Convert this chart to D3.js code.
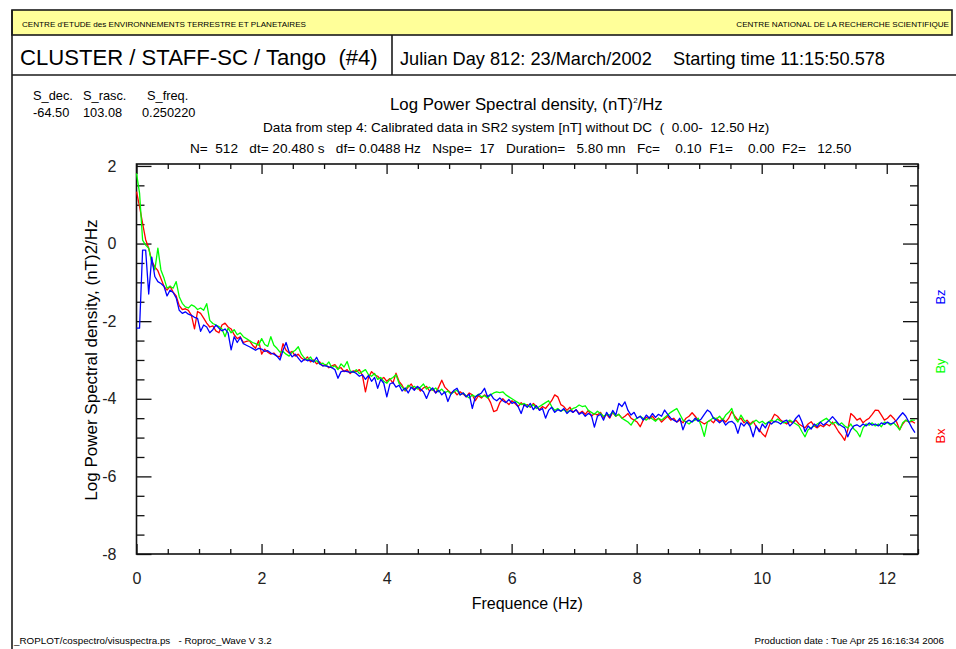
<!DOCTYPE html>
<html>
<head>
<meta charset="utf-8">
<script src="https://cdn.jsdelivr.net/npm/d3@7"></script>
<style>
  html, body { margin: 0; padding: 0; background: #fff; }
  svg { display: block; font-family: "Liberation Sans", Arial, Helvetica, sans-serif; }
  text { white-space: pre; }
</style>
</head>
<body>
<svg id="chart" width="956" height="649"></svg>
<script>
// ---------------- data ----------------
const freqStep = 0.048828; // Hz (df)
const bx = [
 1.34,0.95,0.52,0.1,-0.12,-0.45,-0.6,-0.7,-0.9,-1.1,
 -1.2,-1.1,-1.25,-1.35,-1.6,-1.7,-1.68,-1.72,-1.85,-2.2,
 -1.75,-1.8,-1.92,-2.05,-2.15,-2.12,-2.25,-2.3,-2.1,-2.05,
 -2.15,-2.2,-2.35,-2.45,-2.4,-2.55,-2.52,-2.5,-2.62,-2.7,
 -2.5,-2.85,-2.72,-2.8,-2.85,-2.82,-2.9,-2.92,
 -2.58,-2.75,-2.82,-2.78,-2.9,-2.85,-2.95,-3.0,-2.92,-3.05,
 -3.0,-3.1,-3.05,-3.15,-3.12,-3.2,-3.15,-3.12,-3.22,-3.2,
 -3.3,-3.25,-3.35,-3.28,-3.3,-3.25,-3.4,-3.82,-3.45,-3.3,
 -3.38,-3.42,-3.5,-3.45,-3.55,-3.48,-3.6,-3.34,-3.55,-3.65,
 -3.8,-3.7,-3.62,-3.75,-3.7,-3.8,-3.72,-3.68,-3.8,-3.75,
 -3.85,-3.7,-3.52,-3.7,-3.78,-3.85,-3.8,-3.9,-3.82,-3.88,
 -3.95,-3.85,-3.9,-4.05,-3.92,-3.98,-3.9,-3.95,-4.1,-4.33,
 -4.3,-4.1,-4.0,-4.08,-4.15,-4.05,-4.12,-4.2,-4.1,-4.18,
 -4.15,-4.22,-4.12,-4.2,-4.28,-4.2,-4.25,-4.15,-4.05,-3.9,
 -3.95,-4.15,-4.2,-4.3,-4.22,-4.35,-4.28,-4.38,-4.32,-4.4,
 -4.3,-4.45,-4.38,-4.42,-4.35,-4.48,-4.4,-4.5,-4.35,-4.45,
 -4.4,-4.5,-4.45,-4.38,-4.5,-4.55,-4.6,-4.72,-4.55,-4.48,
 -4.52,-4.45,-4.55,-4.5,-4.6,-4.52,-4.45,-4.55,-4.5,-4.6,
 -4.55,-4.62,-4.5,-4.45,-4.36,-4.45,-4.55,-4.6,-4.65,-4.6,
 -4.55,-4.62,-4.5,-4.58,-4.52,-4.6,-4.5,-4.33,-4.45,-4.55,
 -4.5,-4.62,-4.55,-4.65,-4.58,-4.72,-4.8,-4.9,-4.98,-4.75,
 -4.55,-4.4,-4.45,-4.55,-4.6,-4.65,-4.58,-4.62,-4.55,-4.65,
 -4.7,-4.75,-4.65,-4.59,-4.7,-4.75,-4.68,-4.72,-4.65,-4.7,
 -4.6,-4.72,-4.85,-4.95,-5.07,-4.8,-4.38,-4.45,-4.55,-4.5,
 -4.62,-4.55,-4.5,-4.4,-4.29,-4.3,-4.42,-4.55,-4.5,-4.42,
 -4.5,-4.6,-4.8,-4.65,-4.55,-4.6,-4.58,-4.63
];
const by = [
 1.81,1.3,0.09,-0.04,-0.12,-0.5,-0.68,-0.12,-0.68,-0.89,
 -1.15,-1.1,-1.15,-0.98,-1.37,-1.54,-1.63,-1.66,-1.58,-1.62,
 -1.7,-1.66,-1.72,-1.55,-1.98,-2.06,-2.1,-2.14,-2.2,-2.4,
 -2.18,-2.3,-2.22,-2.35,-2.3,-2.4,-2.45,-2.5,-2.55,-2.58,
 -2.62,-2.45,-2.6,-2.65,-2.4,-2.62,-2.7,-2.8,
 -2.78,-2.85,-2.9,-2.8,-2.75,-2.66,-2.85,-2.95,-3.0,-2.92,
 -3.05,-3.02,-3.1,-3.08,-3.15,-3.05,-3.2,-3.15,-3.25,-3.1,
 -3.18,-3.04,-3.28,-3.32,-3.25,-3.35,-3.3,-3.25,-3.38,-3.42,
 -3.35,-3.5,-3.45,-3.55,-3.6,-3.5,-3.45,-3.38,-3.6,-3.7,
 -3.78,-3.65,-3.72,-3.68,-3.75,-3.7,-3.62,-3.75,-3.7,-3.78,
 -3.72,-3.82,-3.75,-3.85,-3.8,-3.88,-3.82,-3.78,-3.9,-3.85,
 -3.92,-3.98,-3.9,-3.95,-3.88,-3.95,-3.92,-3.98,-3.9,-3.85,
 -3.82,-3.84,-3.82,-3.9,-3.95,-4.0,-4.05,-4.1,-4.15,-4.12,
 -4.18,-4.2,-4.15,-4.25,-4.2,-4.15,-4.1,-4.05,-4.2,-4.3,
 -4.25,-4.32,-4.28,-4.35,-4.3,-4.25,-4.22,-4.16,-4.2,-4.18,
 -4.3,-4.35,-4.4,-4.32,-4.38,-4.45,-4.4,-4.42,-4.35,-4.45,
 -4.4,-4.5,-4.55,-4.6,-4.68,-4.55,-4.5,-4.45,-4.5,-4.55,
 -4.48,-4.52,-4.58,-4.5,-4.55,-4.48,-4.42,-4.35,-4.3,-4.25,
 -4.4,-4.55,-4.6,-4.65,-4.58,-4.55,-4.5,-4.7,-4.97,-4.6,
 -4.55,-4.48,-4.52,-4.45,-4.55,-4.42,-4.35,-4.25,-4.5,-4.6,
 -4.42,-4.55,-4.62,-4.68,-4.6,-4.55,-4.62,-4.58,-4.65,-4.6,
 -4.55,-4.6,-4.52,-4.58,-4.62,-4.6,-4.55,-4.6,-4.65,-4.7,
 -4.85,-4.98,-4.8,-4.75,-4.7,-4.65,-4.6,-4.55,-4.5,-4.58,
 -4.65,-4.6,-4.68,-4.62,-4.7,-4.75,-4.65,-4.78,-4.85,-4.98,
 -4.75,-4.65,-4.68,-4.62,-4.7,-4.65,-4.72,-4.6,-4.62,-4.68,
 -4.62,-4.7,-4.8,-4.62,-4.55,-4.6,-4.55,-4.55
];
const bz = [
 -2.18,-2.18,-0.17,-0.17,-1.3,-0.35,-0.85,-0.98,-1.03,-1.1,
 -1.35,-1.2,-1.26,-1.4,-1.72,-1.8,-1.76,-1.82,-1.85,-1.9,
 -1.93,-2.26,-2.1,-2.15,-2.3,-2.22,-2.1,-2.18,-2.25,-2.2,
 -2.3,-2.74,-2.4,-2.55,-2.42,-2.58,-2.62,-2.66,-2.7,-2.75,
 -2.7,-2.72,-2.78,-2.76,-2.82,-2.85,-2.9,-3.0,
 -2.75,-2.55,-2.8,-2.92,-2.85,-2.95,-3.05,-2.98,-3.02,-3.0,
 -3.05,-2.93,-3.1,-3.15,-3.15,-3.18,-3.2,-3.25,-3.47,-3.3,
 -3.28,-3.3,-3.32,-3.3,-3.35,-3.42,-3.38,-3.5,-3.4,-3.55,
 -3.45,-3.73,-3.5,-3.6,-3.95,-3.62,-3.58,-3.7,-3.65,-3.8,
 -3.72,-3.85,-3.7,-3.78,-3.68,-3.75,-3.82,-3.99,-3.8,-3.72,
 -3.85,-3.78,-3.9,-3.82,-4.07,-3.88,-3.78,-3.73,-3.9,-3.85,
 -3.95,-3.88,-4.25,-3.95,-3.9,-3.85,-3.73,-3.95,-3.88,-4.0,
 -4.05,-3.98,-4.05,-4.1,-4.02,-4.12,-4.08,-4.2,-4.38,-4.15,
 -4.22,-4.12,-4.28,-4.18,-4.3,-4.25,-4.5,-4.3,-4.22,-4.35,
 -4.28,-4.32,-4.25,-4.38,-4.3,-4.35,-4.28,-4.4,-4.35,-4.45,
 -4.38,-4.42,-4.73,-4.45,-4.4,-4.55,-4.35,-4.48,-4.3,-4.42,
 -4.12,-4.2,-4.08,-4.3,-4.42,-4.35,-4.5,-4.45,-4.55,-4.42,
 -4.5,-4.38,-4.48,-4.4,-4.45,-4.29,-4.4,-4.5,-4.55,-4.6,
 -4.5,-4.8,-4.6,-4.55,-4.6,-4.5,-4.58,-4.52,-4.4,-4.29,
 -4.35,-4.5,-4.55,-4.62,-4.55,-4.68,-4.6,-4.58,-4.65,-4.89,
 -4.62,-4.7,-4.6,-4.72,-4.98,-4.7,-4.85,-4.65,-4.75,-4.6,
 -4.65,-4.58,-4.6,-4.65,-4.58,-4.55,-4.7,-4.62,-4.5,-4.42,
 -4.6,-4.85,-4.7,-4.78,-4.65,-4.72,-4.6,-4.68,-4.62,-4.55,
 -4.46,-4.55,-4.65,-4.7,-4.75,-4.98,-4.8,-4.7,-4.67,-4.72,
 -4.65,-4.7,-4.62,-4.68,-4.65,-4.7,-4.62,-4.66,-4.6,-4.65,
 -4.62,-4.55,-4.45,-4.36,-4.45,-4.6,-4.75,-4.87
];
const seriesNames = ["Bx", "By", "Bz"];
const seriesColors = ["#ff0000", "#00ff00", "#0000ff"];
const xMajorTicks = [0, 2, 4, 6, 8, 10, 12];
const yMajorTicks = [-8, -6, -4, -2, 0, 2];

// ---------------- layout ----------------
const svg = d3.select("#chart");
svg.append("rect").attr("width", 956).attr("height", 649).attr("fill", "#fff");

svg.append("rect").attr("x", 12).attr("y", 10).attr("width", 940).attr("height", 25)
  .attr("fill", "#ffff99").attr("stroke", "#1a1a1a").attr("stroke-width", 1.6);
svg.append("line").attr("x1", 12).attr("x2", 956).attr("y1", 75).attr("y2", 75).attr("stroke", "#1a1a1a").attr("stroke-width", 1.6);
svg.append("line").attr("x1", 12).attr("x2", 12).attr("y1", 10).attr("y2", 649).attr("stroke", "#1a1a1a").attr("stroke-width", 1.6);
svg.append("line").attr("x1", 392).attr("x2", 392).attr("y1", 35).attr("y2", 75).attr("stroke", "#1a1a1a").attr("stroke-width", 1.6);

function txt(x, y, s, size, opts = {}) {
  const t = svg.append("text").attr("x", x).attr("y", y).attr("font-size", size)
    .attr("fill", opts.fill || "#000").attr("text-anchor", opts.anchor || "start").text(s);
  if (opts.rotate) t.attr("transform", `rotate(${opts.rotate},${x},${y})`);
  return t;
}

txt(22, 27, "CENTRE d'ETUDE des ENVIRONNEMENTS TERRESTRE ET PLANETAIRES", 8.1);
txt(949, 27, "CENTRE NATIONAL DE LA RECHERCHE SCIENTIFIQUE", 8.1, {anchor: "end"});
txt(20, 65, "CLUSTER / STAFF-SC / Tango  (#4)", 22.1);
txt(400, 65, "Julian Day 812: 23/March/2002", 18.2);
txt(673, 65, "Starting time 11:15:50.578", 18.2);

txt(33, 100, "S_dec.", 12.8);
txt(83, 100, "S_rasc.", 12.8);
txt(147, 100, "S_freq.", 12.8);
txt(33, 117, "-64.50", 12.8);
txt(83, 117, "103.08", 12.8);
txt(142, 117, "0.250220", 12.8);

const t1 = txt(390, 110, "Log Power Spectral density, (nT)", 16.8);
t1.append("tspan").attr("font-size", 8).attr("dy", -7).text("2");
t1.append("tspan").attr("dy", 7).text("/Hz");
txt(263, 132, "Data from step 4: Calibrated data in SR2 system [nT] without DC  (  0.00-  12.50 Hz)", 13.6);
txt(190, 153, "N=  512   dt= 20.480 s   df= 0.0488 Hz   Nspe=  17   Duration=   5.80 mn   Fc=    0.10  F1=    0.00  F2=   12.50", 13.6);

txt(14, 644, "_ROPLOT/cospectro/visuspectra.ps   - Roproc_Wave V 3.2", 9.8);
txt(944, 644, "Production date : Tue Apr 25 16:16:34 2006", 9.8, {anchor: "end"});

// ---------------- plot ----------------
const L = 136.5, R = 918, T = 164, B = 554;
const x = d3.scaleLinear().domain([0, 12.5]).range([L, R]);
const y = d3.scaleLinear().domain([-8, 2.05]).range([B, T]);

const xMinor = d3.range(0, 12.5001, 0.5).filter(v => !xMajorTicks.includes(v));
const yMinor = d3.range(-8, 2.0001, 0.5).filter(v => !yMajorTicks.includes(v));

const axG = svg.append("g");
function styleAxis(g) {
  g.select(".domain").remove();
  g.selectAll(".tick line").attr("stroke", "#111").attr("stroke-width", 1.3);
  g.selectAll(".tick text").attr("font-family", "Liberation Sans, Arial, sans-serif")
    .attr("font-size", 16).attr("fill", "#222");
}
axG.append("g").attr("transform", `translate(0,${B})`)
  .call(d3.axisBottom(x).tickValues(xMajorTicks).tickSize(-10).tickPadding(19).tickFormat(d => String(d)))
  .call(styleAxis);
axG.append("g").attr("transform", `translate(0,${B})`)
  .call(d3.axisBottom(x).tickValues(xMinor).tickSize(-5).tickFormat(""))
  .call(styleAxis);
axG.append("g").attr("transform", `translate(0,${T})`)
  .call(d3.axisTop(x).tickValues(xMajorTicks).tickSize(-10).tickFormat(""))
  .call(styleAxis);
axG.append("g").attr("transform", `translate(0,${T})`)
  .call(d3.axisTop(x).tickValues(xMinor).tickSize(-5).tickFormat(""))
  .call(styleAxis);
axG.append("g").attr("transform", `translate(${L},0)`)
  .call(d3.axisLeft(y).tickValues(yMajorTicks).tickSize(-15).tickPadding(20).tickFormat(d => String(d)))
  .call(styleAxis);
axG.append("g").attr("transform", `translate(${L},0)`)
  .call(d3.axisLeft(y).tickValues(yMinor).tickSize(-8).tickFormat(""))
  .call(styleAxis);
axG.append("g").attr("transform", `translate(${R},0)`)
  .call(d3.axisRight(y).tickValues(yMajorTicks).tickSize(-15).tickFormat(""))
  .call(styleAxis);
axG.append("g").attr("transform", `translate(${R},0)`)
  .call(d3.axisRight(y).tickValues(yMinor).tickSize(-8).tickFormat(""))
  .call(styleAxis);

svg.append("rect").attr("x", L).attr("y", T).attr("width", R - L).attr("height", B - T)
  .attr("fill", "none").attr("stroke", "#111").attr("stroke-width", 1.6);

// lines
const line = d3.line().x((d, i) => x(i * freqStep)).y(d => y(d));
[bx, by, bz].forEach((s, k) => {
  svg.append("path").datum(s).attr("d", line).attr("fill", "none")
    .attr("stroke", seriesColors[k]).attr("stroke-width", 1.3).attr("stroke-linejoin", "round");
});

// axis titles
txt((L + R) / 2, 609, "Frequence (Hz)", 16, {anchor: "middle"});
txt(97, 360, "Log Power Spectral density, (nT)2/Hz", 17, {anchor: "middle", rotate: -90});

// series labels on the right
const labelY = [436, 366, 297];
seriesNames.forEach((n, k) => {
  txt(945, labelY[k], n, 13, {anchor: "middle", rotate: -90, fill: seriesColors[k]});
});
</script>
</body>
</html>
